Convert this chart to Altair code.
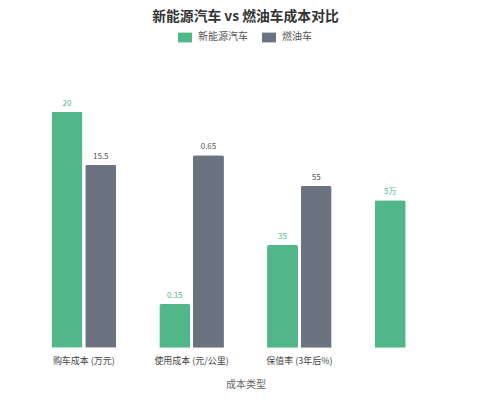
import altair as alt
import pandas as pd

categories = ["购车成本 (万元)", "使用成本 (元/公里)", "保值率 (3年后%)", " "]
series = ["新能源汽车", "燃油车"]
colors = ["#52b788", "#6b7280"]
text_colors = ["#52b788", "#555555"]

# bar heights as drawn (each category is drawn on its own relative scale)
nev_heights = [20, 3.7, 8.7, 12.5]
nev_labels = ["20", "0.15", "35", "5万"]
ice_heights = [15.5, 16.3, 13.7]
ice_labels = ["15.5", "0.65", "55"]

rows = []
for c, h, l in zip(categories, nev_heights, nev_labels):
    rows.append({"cat": c, "series": series[0], "h": h, "label": l, "tcolor": text_colors[0]})
for c, h, l in zip(categories, ice_heights, ice_labels):
    rows.append({"cat": c, "series": series[1], "h": h, "label": l, "tcolor": text_colors[1]})
df = pd.DataFrame(rows)

FONT = "Noto Sans CJK SC"

x = alt.X("cat:N", sort=categories,
          scale=alt.Scale(paddingInner=0.4, paddingOuter=0.2),
          axis=alt.Axis(title="成本类型", labelAngle=0, labelFontSize=9, labelColor="#444444",
                        ticks=False, domain=False, labelPadding=9, titlePadding=14,
                        titleFontSize=10, titleFontWeight="normal", titleColor="#666666",
                        labelFont=FONT, titleFont=FONT))
xo = alt.XOffset("series:N", sort=series, scale=alt.Scale(paddingInner=0.08))
y = alt.Y("h:Q", scale=alt.Scale(domain=[0, 24], nice=False), axis=None)

base = alt.Chart(df)
bars = base.mark_bar(cornerRadiusTopLeft=2, cornerRadiusTopRight=2).encode(
    x=x, xOffset=xo, y=y,
    color=alt.Color("series:N", sort=series,
                    scale=alt.Scale(domain=series, range=colors),
                    legend=alt.Legend(title=None, orient="none", direction="horizontal",
                                      legendX=148, legendY=-34,
                                      symbolType="M-1,-0.7L1,-0.7L1,0.7L-1,0.7Z",
                                      symbolSize=196, symbolStrokeWidth=0,
                                      labelFontSize=10, labelColor="#555555", labelFont=FONT,
                                      labelOffset=6, columnPadding=14)),
)
texts = base.mark_text(baseline="bottom", dy=-4, fontSize=8, font=FONT).encode(
    x=x, xOffset=xo, y=y,
    text="label:N",
    color=alt.Color("tcolor:N", scale=None),
)

chart = alt.layer(bars, texts).properties(
    width=431, height=283.2,
    title=alt.TitleParams("新能源汽车 vs 燃油车成本对比", fontSize=13.8, fontWeight="bold",
                          color="#333333", anchor="middle", frame="group", offset=7, font=FONT),
    autosize=alt.AutoSizeParams(type="none"),
    padding={"left": 22, "top": 56.5, "right": 11, "bottom": 50},
).configure(font=FONT).configure_view(stroke=None)

chart.save("out.html", embed_options={"renderer": "svg", "actions": False})
